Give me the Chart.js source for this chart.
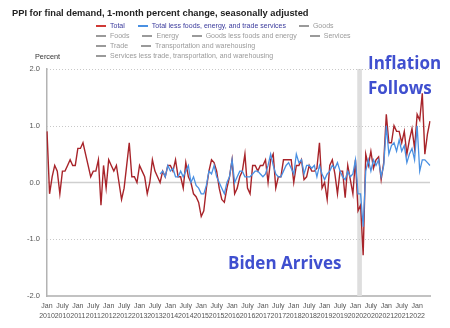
<!DOCTYPE html>
<html>
<head>
<meta charset="utf-8">
<script src="https://cdn.jsdelivr.net/npm/chart.js@4/dist/chart.umd.min.js"></script>
<style>
  body { margin: 0; background: #fff; }
  #wrap { position: relative; width: 450px; height: 328px; font-family: 'Liberation Sans', Arial, sans-serif; }
  #legend { position: absolute; left: 96px; top: 21px; font-size: 7px; line-height: 10px; }
  .row { display: flex; gap: 13px; height: 10px; white-space: nowrap; }
  .item { display: flex; align-items: center; color: #9a9a9a; }
  .item i { display: inline-block; width: 10px; height: 2px; background: #9a9a9a; margin-right: 4px; }
  .item.on { color: #3a3a9c; }
  #unit { position: absolute; left: 35px; top: 52px; font-size: 7.3px; color: #333; }
</style>
</head>
<body>
<div id="wrap">
  <canvas id="ppiChart" width="450" height="328"></canvas>
  <div id="legend"></div>
  <div id="unit">Percent</div>
</div>
<script>
// monthly percent change, Jan 2010 - June 2022
const monthNames = ['Jan', 'Feb', 'Mar', 'Apr', 'May', 'June', 'July', 'Aug', 'Sep', 'Oct', 'Nov', 'Dec'];
const firstYear = 2010;

const totalPct = [
    0.9, -0.2, 0.1, 0.3, 0.2, -0.2, 0.2, 0.2, 0.3, 0.4, 0.3, 0.3,
    0.6, 0.6, 0.7, 0.5, 0.3, 0.1, 0.2, 0.2, 0.4, -0.4, 0.3, -0.1,
    0.4, 0.3, 0.2, 0.3, 0.0, -0.3, -0.1, 0.3, 0.7, 0.1, 0.1, 0.0,
    0.3, 0.2, 0.1, -0.2, 0.0, 0.4, 0.2, 0.1, 0.0, 0.2, 0.1, 0.3,
    0.3, 0.2, 0.4, 0.1, 0.1, -0.1, 0.35, 0.1, 0.0, -0.2, -0.25, -0.35,
    -0.6, -0.5, -0.1, 0.2, 0.4, 0.35, 0.2, -0.1, -0.3, -0.35, -0.1, 0.1,
    0.4, -0.2, -0.1, 0.1, 0.2, 0.5, -0.1, -0.2, 0.3, 0.3, 0.2, 0.3,
    0.3, 0.4, 0.0, 0.4, 0.5, -0.1, 0.1, 0.1, 0.4, 0.4, 0.4, 0.4,
    0.0, 0.3, 0.3, 0.4, 0.05, 0.1, 0.3, 0.2, 0.2, 0.25, 0.7, -0.1,
    0.0, -0.3, 0.3, 0.4, 0.15, -0.2, 0.2, 0.2, -0.27, 0.3, 0.05, -0.2,
    0.4, -0.5, -0.4, -1.28, 0.5, 0.3, 0.55, 0.25, 0.4, 0.45, 0.05, 0.35,
    1.2, 0.7, 0.7, 1.0, 0.9, 0.9, 0.7, 0.9, 0.5, 0.75, 0.95, 0.6,
    1.2, 1.1, 1.57, 0.5, 0.85, 1.08
];

// Total less foods, energy, and trade services starts Sep 2013
const coreStart = 'Sep 2013';
const corePct = [
    0.15, 0.2, 0.1, 0.3,
    0.2, 0.25, 0.1, 0.1, 0.2, 0.1, 0.2, 0.3, 0.0, 0.1, -0.05, -0.1,
    -0.2, -0.2, -0.05, 0.2, 0.15, 0.3, 0.1, 0.0, -0.1, -0.2, 0.0, 0.1,
    0.4, 0.0, 0.1, 0.2, 0.2, 0.1, 0.1, 0.1, 0.15, 0.2, 0.2, 0.15,
    0.1, 0.15, 0.3, 0.5, 0.3, 0.15, 0.1, 0.1, 0.2, 0.3, 0.35, 0.25,
    0.15, 0.5, 0.35, 0.4, 0.15, 0.3, 0.3, 0.25, 0.3, 0.1, 0.3, 0.15,
    0.05, 0.15, 0.2, 0.3, 0.25, 0.35, 0.2, 0.1, 0.05, 0.2, 0.1, 0.15,
    0.4, -0.2, -0.2, -0.78, 0.2, 0.4, 0.2, 0.4, 0.3, 0.4, 0.1, 0.3,
    1.0, 0.5, 0.65, 0.7, 0.55, 0.75, 0.55, 0.65, 0.35, 0.5, 0.6, 0.4,
    1.0, 0.2, 0.4, 0.4, 0.35, 0.3
];

const yTicks = [-2, -1, 0, 1, 2];
const recession = ['Feb 2020', 'Apr 2020'];

const legendRows = [
    [['Total', '#d03a36', true], ['Total less foods, energy, and trade services', '#4a90e2', true], ['Goods']],
    [['Foods'], ['Energy'], ['Goods less foods and energy'], ['Services']],
    [['Trade'], ['Transportation and warehousing']],
    [['Services less trade, transportation, and warehousing']]
];

const notes = [
    { text: 'Inflation', x: 368, y: 69 },
    { text: 'Follows', x: 368, y: 94 },
    { text: 'Biden Arrives', x: 228, y: 269 }
];

document.addEventListener('DOMContentLoaded', function() {
    const labels = totalPct.map((v, i) => monthNames[i % 12] + ' ' + (firstYear + Math.floor(i / 12)));
    const coreData = Array(labels.indexOf(coreStart)).fill(null).concat(corePct);

    // legend in html
    const legend = document.getElementById('legend');
    legendRows.forEach(row => {
        const r = document.createElement('div');
        r.className = 'row';
        row.forEach(([name, color, on]) => {
            const it = document.createElement('span');
            it.className = 'item' + (on ? ' on' : '');
            const mark = document.createElement('i');
            if (color) mark.style.background = color;
            it.appendChild(mark);
            it.appendChild(document.createTextNode(name));
            r.appendChild(it);
        });
        legend.appendChild(r);
    });

    const backdrop = {
        id: 'backdrop',
        beforeDatasetsDraw(chart) {
            const {ctx, chartArea, scales: {x, y}} = chart;
            const i0 = labels.indexOf(recession[0]);
            const i1 = labels.indexOf(recession[1]);
            ctx.save();
            ctx.fillStyle = '#dedede';
            const xa = x.getPixelForValue(i0 - 0.3);
            const xb = x.getPixelForValue(i1 - 0.5);
            ctx.fillRect(xa, chartArea.top, xb - xa, chartArea.bottom - chartArea.top);
            yTicks.forEach(v => {
                if (v === -2) return;
                const py = Math.round(y.getPixelForValue(v)) + 0.5;
                ctx.beginPath();
                ctx.setLineDash(v === 0 ? [] : [1, 2]);
                ctx.lineWidth = v === 0 ? 1.5 : 1;
                ctx.strokeStyle = v === 0 ? '#cfcfcf' : '#c8c8c8';
                ctx.moveTo(chartArea.left, py);
                ctx.lineTo(chartArea.right, py);
                ctx.stroke();
            });
            ctx.restore();
        },
        afterDatasetsDraw(chart) {
            const ctx = chart.ctx;
            ctx.save();
            ctx.fillStyle = '#3f4fcf';
            ctx.font = "bold 17px 'Open Sans'";
            ctx.textBaseline = 'alphabetic';
            notes.forEach(n => ctx.fillText(n.text, n.x, n.y));
            ctx.restore();
        }
    };

    Chart.defaults.font.family = "'Liberation Sans', Arial, sans-serif";

    new Chart(document.getElementById('ppiChart'), {
        type: 'line',
        data: {
            labels: labels,
            datasets: [{
                label: 'Total less foods, energy, and trade services',
                data: coreData,
                borderColor: '#4a90e2',
                borderWidth: 1.3,
                pointRadius: 0,
                order: 0
            }, {
                label: 'Total',
                data: totalPct,
                borderColor: '#a8242a',
                borderWidth: 1.4,
                pointRadius: 0,
                order: 1
            }]
        },
        options: {
            responsive: false,
            animation: false,
            layout: { padding: { left: 12, right: 20, top: 0, bottom: 0 } },
            plugins: {
                legend: { display: false },
                tooltip: { enabled: false },
                title: {
                    display: true,
                    text: 'PPI for final demand, 1-month percent change, seasonally adjusted',
                    align: 'start',
                    color: '#222',
                    font: { size: 9.3, weight: 'bold', lineHeight: 1.2 },
                    padding: { top: 7.5, bottom: 50.3 }
                }
            },
            scales: {
                x: {
                    grid: { display: false, drawTicks: false },
                    border: { color: '#c2c2c2', width: 2 },
                    ticks: {
                        autoSkip: false,
                        maxRotation: 0,
                        color: '#555',
                        padding: 5,
                        font: { size: 7, lineHeight: 1.4 },
                        callback: function(value, index) {
                            if (index % 6 !== 0) return '';
                            return this.getLabelForValue(value).split(' ');
                        }
                    },
                    afterFit: s => { s.height = 32; }
                },
                y: {
                    min: -2,
                    max: 2,
                    grid: { display: false, drawTicks: false },
                    border: { color: '#b3b3b3', width: 1.5 },
                    ticks: {
                        stepSize: 1,
                        color: '#555',
                        padding: 7,
                        font: { size: 7.5 },
                        callback: v => v.toFixed(1)
                    },
                    afterFit: s => { s.width = 35; }
                }
            }
        },
        plugins: [backdrop]
    });
});
</script>
</body>
</html>
